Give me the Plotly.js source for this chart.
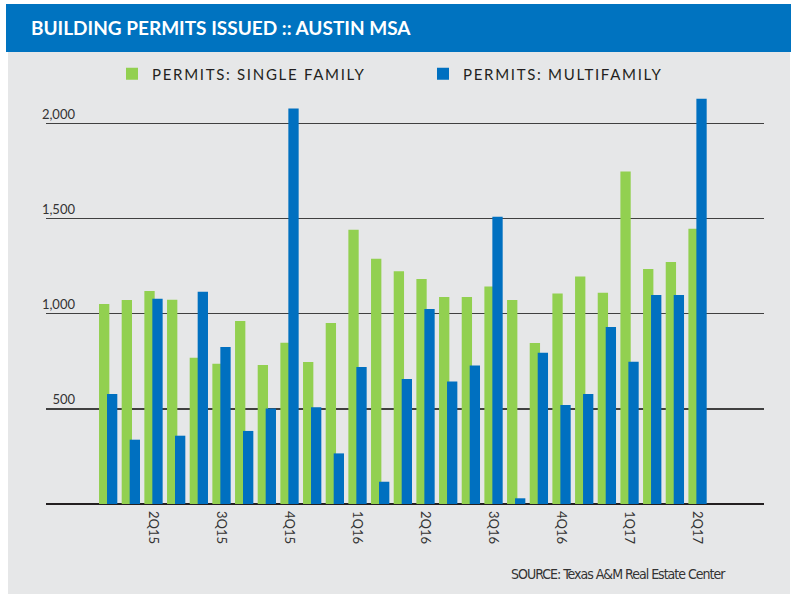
<!DOCTYPE html>
<html>
<head>
<meta charset="utf-8">
<script src="https://cdn.plot.ly/plotly-3.0.1.min.js"></script>
<style>
  html, body { margin: 0; padding: 0; background: #ffffff; }
  #chart { width: 791px; height: 594px; }
  .legendtext { letter-spacing: 1.7px; }
  .annotation-text { letter-spacing: -1px; }
</style>
</head>
<body>
<div id="chart"></div>
<script>
// ---- data ----
const months = [
  "Feb 2015","Mar 2015","Apr 2015","May 2015","Jun 2015","Jul 2015","Aug 2015","Sep 2015","Oct 2015",
  "Nov 2015","Dec 2015","Jan 2016","Feb 2016","Mar 2016","Apr 2016","May 2016","Jun 2016","Jul 2016",
  "Aug 2016","Sep 2016","Oct 2016","Nov 2016","Dec 2016","Jan 2017","Feb 2017","Mar 2017","Apr 2017"
];
const singleFamily = [1051, 1072, 1119, 1074, 769, 737, 962, 730, 848, 746, 951, 1441, 1289, 1224,
                      1182, 1088, 1088, 1143, 1072, 846, 1107, 1196, 1110, 1748, 1235, 1272, 1447];
const multiFamily  = [578, 338, 1079, 359, 1116, 825, 384, 502, 2079, 508, 266, 720, 117, 657,
                      1025, 644, 728, 1510, 30, 795, 520, 578, 930, 748, 1098, 1098, 2130];
const quarterTickMonths = ["Apr 2015","Jul 2015","Oct 2015","Jan 2016","Apr 2016","Jul 2016","Oct 2016","Jan 2017","Apr 2017"];
const quarterTickLabels = ["2Q15","3Q15","4Q15","1Q16","2Q16","3Q16","4Q16","1Q17","2Q17"];
const yTickVals = [500, 1000, 1500, 2000];
const yTickLabels = ["500", "1,000", "1,500", "2,000"];

// ---- geometry helpers (pixels -> paper) ----
const W = 791, H = 594;
const M = { l: 46, r: 27, t: 90, b: 90 };
const PW = W - M.l - M.r, PH = H - M.t - M.b;
const px = x => (x - M.l) / PW;
const py = y => (H - M.b - y) / PH;

const traces = [
  {
    type: "bar", name: "PERMITS: SINGLE FAMILY", x: months, y: singleFamily,
    marker: { color: "#92D050", line: { width: 0 } },
    width: 0.455, offset: -0.405, hoverinfo: "x+y"
  },
  {
    type: "bar", name: "PERMITS: MULTIFAMILY", x: months, y: multiFamily,
    marker: { color: "#0070C0", line: { width: 0 } },
    width: 0.455, offset: -0.053, hoverinfo: "x+y"
  }
];

const layout = {
  width: W, height: H,
  margin: M,
  paper_bgcolor: "#ffffff",
  plot_bgcolor: "rgba(0,0,0,0)",
  barmode: "overlay",
  font: { family: "Lato, 'Open Sans', sans-serif", color: "#231f20" },
  title: {
    text: "BUILDING PERMITS ISSUED :: AUSTIN MSA",
    font: { family: "Lato, sans-serif", size: 19, color: "#ffffff", weight: 700 },
    xref: "container", yref: "container",
    x: 31 / W, xanchor: "left",
    y: 1 - 28 / H, yanchor: "middle"
  },
  showlegend: true,
  legend: {
    orientation: "h",
    x: px(112), xanchor: "left",
    y: py(74), yanchor: "middle",
    bgcolor: "rgba(0,0,0,0)",
    font: { family: "Lato, sans-serif", size: 15, color: "#231f20" },
    entrywidth: 266, entrywidthmode: "pixels",
    traceorder: "normal"
  },
  xaxis: {
    type: "category",
    range: [-2.744, 28.93],
    tickmode: "array",
    tickvals: quarterTickMonths,
    ticktext: quarterTickLabels,
    tickangle: 90,
    ticks: "",
    ticklabelstandoff: 6,
    tickfont: { family: "Lato, sans-serif", size: 13, color: "#333333" },
    showgrid: false, zeroline: false, showline: false, fixedrange: true
  },
  yaxis: {
    range: [0, 2176],
    tickmode: "array",
    tickvals: yTickVals,
    ticktext: yTickLabels,
    ticks: "",
    ticklabelposition: "outside top",
    ticklabelstandoff: -30,
    tickfont: { family: "Lato, sans-serif", size: 13, color: "#333333" },
    showgrid: true, gridcolor: "#404040", gridwidth: 1.4,
    zeroline: true, zerolinecolor: "#231f20", zerolinewidth: 2.2,
    showline: false, fixedrange: true
  },
  shapes: [
    { type: "rect", xref: "paper", yref: "paper", layer: "below",
      x0: px(8), x1: px(790), y0: py(594), y1: py(52),
      fillcolor: "#E6E7E8", line: { width: 0 } },
    { type: "rect", xref: "paper", yref: "paper", layer: "below",
      x0: px(6), x1: px(791), y0: py(52), y1: py(4),
      fillcolor: "#0073C0", line: { width: 0 } }
  ],
  annotations: [
    { text: "SOURCE: Texas A&M Real Estate Center",
      xref: "paper", yref: "paper", x: px(728), y: py(574),
      xanchor: "right", yanchor: "middle", showarrow: false,
      font: { family: "'DejaVu Sans Condensed', 'DejaVu Sans', sans-serif", size: 14, color: "#333333" } }
  ]
};

Plotly.newPlot("chart", traces, layout, { displayModeBar: false, staticPlot: true });
</script>
</body>
</html>
